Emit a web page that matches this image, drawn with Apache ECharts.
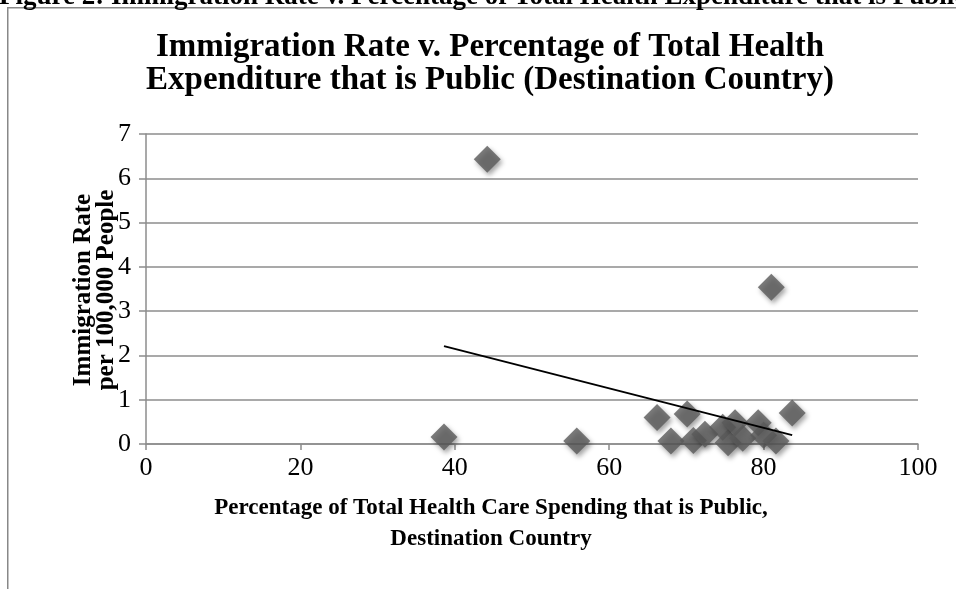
<!DOCTYPE html>
<html>
<head>
<meta charset="utf-8">
<script src="https://cdn.jsdelivr.net/npm/echarts@6/dist/echarts.min.js"></script>
<style>
  html, body { margin: 0; padding: 0; background: #fff; }
  #chart { width: 956px; height: 589px; }
</style>
</head>
<body>
<div id="chart"></div>
<script>
// public share of health spending (%) and immigration rate per 100,000
const pctPublic = [44.2, 81.0, 38.6, 55.8, 66.2, 70.1, 68.0, 70.9, 72.4, 74.7, 75.4, 76.3, 77.3, 79.3, 80.0, 81.6, 83.7];
const immRate   = [6.43, 3.54, 0.16, 0.07, 0.60, 0.68, 0.07, 0.08, 0.22, 0.38, 0.03, 0.48, 0.13, 0.48, 0.20, 0.07, 0.70];
// trend line end points
const trendX = [38.6, 83.7];
const trendY = [2.21, 0.20];
const xTicks = { min: 0, max: 100, step: 20 };
const yTicks = { min: 0, max: 7, step: 1 };

const serif = '"Liberation Serif", "DejaVu Serif", serif';
const chart = echarts.init(document.getElementById('chart'));

const points = pctPublic.map((x, i) => [x, immRate[i]]);
const trend = trendX.map((x, i) => [x, trendY[i]]);

chart.setOption({
  animation: false,
  grid: { left: 146, right: 38, top: 134, bottom: 145 },
  graphic: [
    { // caption of the page, cut off by the top edge
      type: 'text', x: -1, y: 11,
      style: { text: 'Figure 2: Immigration Rate v. Percentage of Total Health Expenditure that is Public (Destination Country)', font: 'bold 27px ' + serif, fill: '#000', verticalAlign: 'bottom' },
    },
    {
      type: 'rect', left: 7, top: 7, z: -1,
      shape: { width: 1000, height: 700 },
      style: { fill: '#fff', stroke: '#888', lineWidth: 1.5 },
    },
    {
      type: 'text', x: 490, y: 64,
      style: { text: 'Immigration Rate v. Percentage of Total Health\nExpenditure that is Public (Destination Country)', font: 'bold 33px ' + serif, fill: '#000', align: 'center', verticalAlign: 'middle', lineHeight: 33 },
    },
    {
      type: 'text', x: 491, y: 524,
      style: { text: 'Percentage of Total Health Care Spending that is Public,\nDestination Country', font: 'bold 23px ' + serif, fill: '#000', align: 'center', verticalAlign: 'middle', lineHeight: 31 },
    },
    {
      type: 'text', x: 95, y: 290, rotation: Math.PI / 2,
      style: { text: 'Immigration Rate\nper 100,000 People', font: 'bold 25px ' + serif, fill: '#000', align: 'center', verticalAlign: 'middle', lineHeight: 23 },
    },
  ],
  xAxis: {
    type: 'value', min: xTicks.min, max: xTicks.max, interval: xTicks.step,
    axisLine: { show: true, lineStyle: { color: '#8c8c8c', width: 1.5 } },
    axisTick: { show: true, length: 6, lineStyle: { color: '#8c8c8c', width: 1.5 } },
    axisLabel: { color: '#000', fontFamily: serif, fontSize: 26, margin: 11 },
    splitLine: { show: false },
  },
  yAxis: {
    type: 'value', min: yTicks.min, max: yTicks.max, interval: yTicks.step,
    axisLine: { show: true, lineStyle: { color: '#8c8c8c', width: 1.5 } },
    axisTick: { show: true, length: 7, lineStyle: { color: '#8c8c8c', width: 1.5 } },
    axisLabel: { color: '#000', fontFamily: serif, fontSize: 26, margin: 15 },
    splitLine: { show: true, lineStyle: { color: '#8c8c8c', width: 1.5 } },
  },
  series: [
    {
      type: 'scatter',
      data: points,
      symbol: 'diamond',
      symbolSize: [27, 27],
      itemStyle: {
        color: '#5a5a5a',
        shadowColor: 'rgba(0,0,0,0.45)',
        shadowBlur: 5,
        shadowOffsetX: 2,
        shadowOffsetY: 3,
      },
    },
    {
      type: 'line',
      data: trend,
      showSymbol: false,
      symbol: 'none',
      lineStyle: { color: '#000', width: 2 },
      z: 3,
    },
  ],
});
</script>
</body>
</html>
